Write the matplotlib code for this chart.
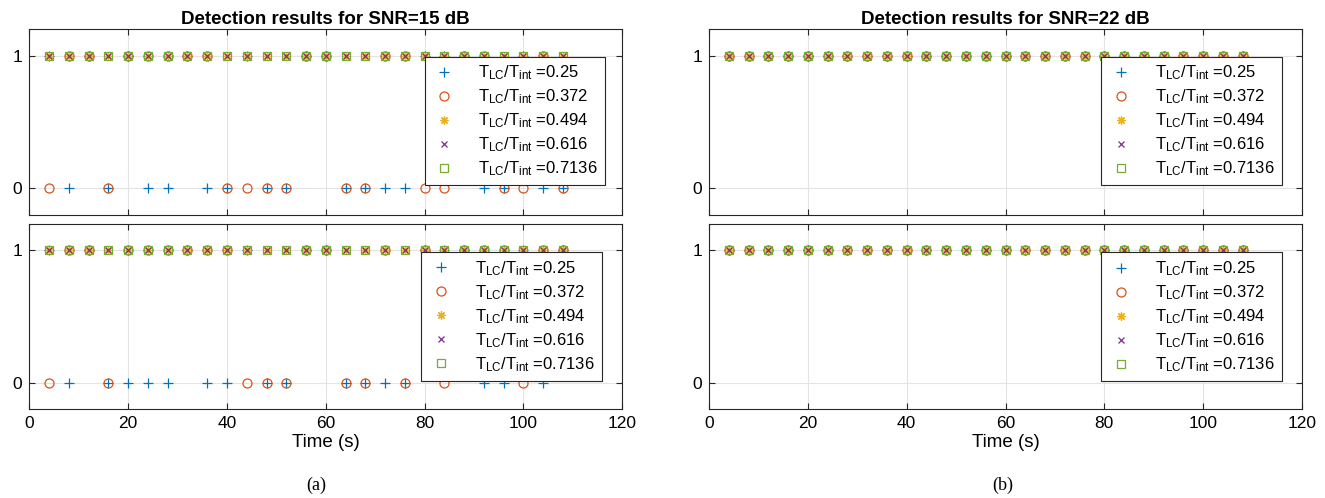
import numpy as np
import matplotlib
matplotlib.use("Agg")
import matplotlib.pyplot as plt

plt.rcParams['font.family'] = ['Liberation Sans', 'DejaVu Sans']
plt.rcParams['mathtext.default'] = 'regular'

# detection instants (s)
t = [4, 8, 12, 16, 20, 24, 28, 32, 36, 40, 44, 48, 52, 56, 60, 64, 68, 72,
     76, 80, 84, 88, 92, 96, 100, 104, 108]

ratios = ["0.25", "0.372", "0.494", "0.616", "0.7136"]

# SNR = 15 dB, upper panel (1 = detected, 0 = missed)
a_top = [
    [1, 0, 1, 0, 1, 0, 0, 1, 0, 0, 1, 0, 0, 1, 1, 0, 0, 0, 0, 1, 1, 1, 0, 0, 1, 0, 0],
    [0, 1, 1, 0, 1, 1, 1, 1, 1, 0, 0, 0, 0, 1, 1, 0, 0, 1, 1, 0, 0, 1, 1, 0, 0, 1, 0],
    [1] * 27,
    [1] * 27,
    [1] * 27,
]
# SNR = 15 dB, lower panel
a_bot = [
    [1, 0, 1, 0, 0, 0, 0, 1, 0, 0, 1, 0, 0, 1, 1, 0, 0, 0, 0, 1, 1, 1, 0, 0, 1, 0, 1],
    [0, 1, 1, 0, 1, 1, 1, 1, 1, 1, 0, 0, 0, 1, 1, 0, 0, 1, 0, 1, 0, 1, 1, 1, 0, 1, 1],
    [1] * 27,
    [1] * 27,
    [1] * 27,
]
# SNR = 22 dB, both panels: everything detected
b_top = [[1] * 27 for _ in ratios]
b_bot = [[1] * 27 for _ in ratios]

markers = ['+', 'o', (8, 2, 0), 'x', 's']
sizes = [7, 6.5, 6, 5, 5.5]
colors = ['#0072BD', '#D95319', '#EDB120', '#7E2F8E', '#77AC30']

fig = plt.figure(figsize=(13.25, 4.98), dpi=100)

W, H = 1325, 498
lx, rx, aw = 29.3 / W, 709 / W, 593 / W
ty, by, ah = 1 - 215 / H, 1 - 409.3 / H, 185.7 / H

panels = [
    (lx, ty, a_top, "Detection results for SNR=15 dB", False, (0.971, 0.853)),
    (lx, by, a_bot, None, True, (0.965, 0.847)),
    (rx, ty, b_top, "Detection results for SNR=22 dB", False, (0.966, 0.853)),
    (rx, by, b_bot, None, True, (0.966, 0.845)),
]

for x0, y0, data, title, show_x, anchor in panels:
    ax = fig.add_axes([x0, y0, aw, ah])
    for vals, m, ms, c, r in zip(data, markers, sizes, colors, ratios):
        mfc = 'none' if m in ('o', 's') else c
        ax.plot(t, vals, linestyle='none', marker=m, color=c, mfc=mfc,
                ms=ms, mew=0.9,
                label=r'T$_{LC}$/T$_{int}$ =' + r)
    ax.set_xlim(0, 120)
    ax.set_ylim(-0.2, 1.2)
    ax.set_xticks([0, 20, 40, 60, 80, 100, 120])
    ax.set_yticks([0, 1])
    ax.grid(True, color='#e3e3e3', linewidth=0.8)
    ax.set_axisbelow(True)
    ax.tick_params(direction='in', top=True, right=True, length=4,
                   width=0.8, color='#262626', labelsize=12.5, pad=5)
    for s in ax.spines.values():
        s.set_color('#262626')
        s.set_linewidth(0.8)
    if show_x:
        ax.set_xlabel("Time (s)", fontsize=13.5, labelpad=2)
    else:
        ax.set_xticklabels([])
    if title:
        ax.set_title(title, fontsize=13.5, fontweight='bold', pad=4)
    leg = ax.legend(loc='upper right', bbox_to_anchor=anchor, fontsize=12,
                    fancybox=False, framealpha=1, edgecolor='#262626',
                    handlelength=1.5, handletextpad=1.3, labelspacing=0.32,
                    borderpad=0.42, borderaxespad=0)
    leg.get_frame().set_linewidth(0.8)

fig.text(lx + aw / 2 - 0.007, 1 - 485 / H, "(a)", ha='center', va='center',
         family=['Liberation Serif'], fontsize=13)
fig.text(rx + aw / 2 - 0.002, 1 - 485 / H, "(b)", ha='center', va='center',
         family=['Liberation Serif'], fontsize=13)

fig.savefig("out.png", dpi=100)
